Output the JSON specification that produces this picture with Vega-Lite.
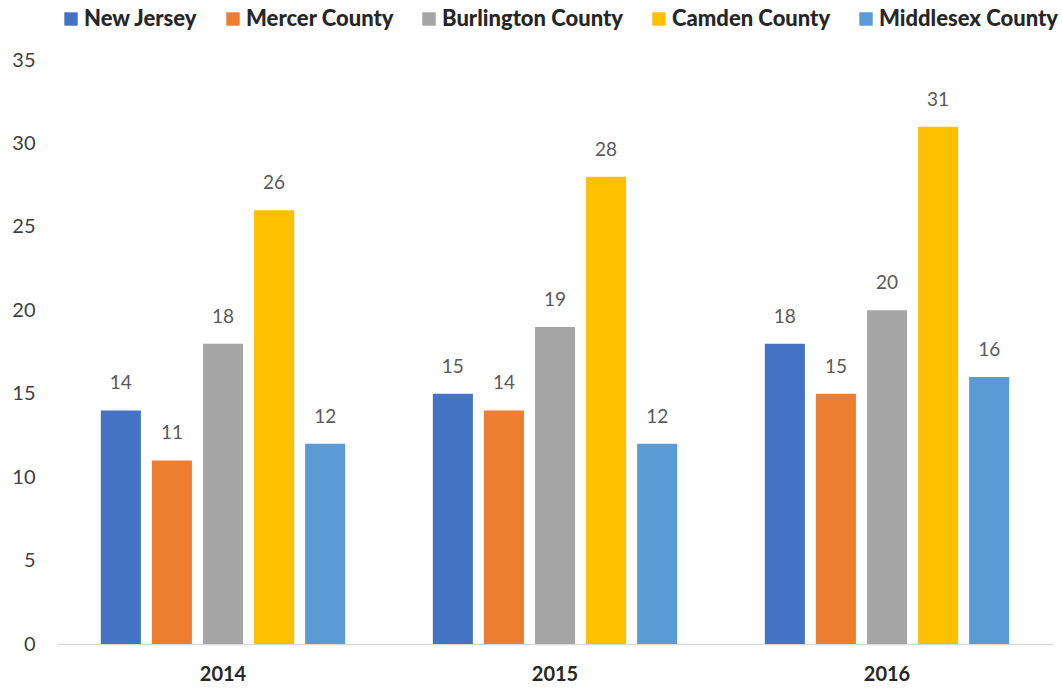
{
  "$schema": "https://vega.github.io/schema/vega-lite/v6.json",
  "autosize": {"type": "none"},
  "width": 996,
  "height": 584,
  "padding": {"left": 57, "top": 60, "right": 9, "bottom": 44},
  "background": "white",
  "config": {"view": {"stroke": null}, "font": "Lato"},
  "data": {
    "values": [
      {"year": "2014", "series": "New Jersey", "value": 14},
      {"year": "2014", "series": "Mercer County", "value": 11},
      {"year": "2014", "series": "Burlington County", "value": 18},
      {"year": "2014", "series": "Camden County", "value": 26},
      {"year": "2014", "series": "Middlesex County", "value": 12},
      {"year": "2015", "series": "New Jersey", "value": 15},
      {"year": "2015", "series": "Mercer County", "value": 14},
      {"year": "2015", "series": "Burlington County", "value": 19},
      {"year": "2015", "series": "Camden County", "value": 28},
      {"year": "2015", "series": "Middlesex County", "value": 12},
      {"year": "2016", "series": "New Jersey", "value": 18},
      {"year": "2016", "series": "Mercer County", "value": 15},
      {"year": "2016", "series": "Burlington County", "value": 20},
      {"year": "2016", "series": "Camden County", "value": 31},
      {"year": "2016", "series": "Middlesex County", "value": 16}
    ]
  },
  "encoding": {
    "x": {
      "field": "year", "type": "nominal",
      "scale": {"paddingInner": 0.264, "paddingOuter": 0.132},
      "axis": {
        "title": null, "labelAngle": 0, "ticks": false, "domainColor": "#d9d9d9", "domainWidth": 1.5,
        "labelFont": "Lato", "labelFontWeight": "bold", "labelFontSize": 20, "labelColor": "#262626", "labelPadding": 20
      }
    },
    "xOffset": {
      "field": "series", "type": "nominal",
      "sort": ["New Jersey", "Mercer County", "Burlington County", "Camden County", "Middlesex County"],
      "scale": {"paddingInner": 0.216, "paddingOuter": 0}
    },
    "y": {
      "field": "value", "type": "quantitative",
      "scale": {"domain": [0, 35]},
      "axis": {
        "title": null, "values": [0, 5, 10, 15, 20, 25, 30, 35], "grid": false, "domain": false, "ticks": false,
        "labelFont": "Lato", "labelFontSize": 20, "labelColor": "#404040", "labelPadding": 22
      }
    }
  },
  "layer": [
    {
      "mark": {"type": "bar"},
      "encoding": {
        "color": {
          "field": "series", "type": "nominal",
          "sort": ["New Jersey", "Mercer County", "Burlington County", "Camden County", "Middlesex County"],
          "scale": {
            "domain": ["New Jersey", "Mercer County", "Burlington County", "Camden County", "Middlesex County"],
            "range": ["#4472C4", "#ED7D31", "#A5A5A5", "#FFC000", "#5B9BD5"]
          },
          "legend": {
            "title": null, "orient": "none", "direction": "horizontal", "legendX": 3, "legendY": -52,
            "symbolType": "square", "symbolSize": 180, "symbolStrokeWidth": 0,
            "labelFont": "Lato", "labelFontWeight": 900, "labelFontSize": 22, "labelColor": "#262626",
            "labelOffset": 2, "columnPadding": 24, "labelLimit": 300
          }
        }
      }
    },
    {
      "mark": {"type": "text", "baseline": "middle", "dy": -27, "fontSize": 19, "font": "Lato", "color": "#595959"},
      "encoding": {"text": {"field": "value", "type": "quantitative"}}
    }
  ]
}
